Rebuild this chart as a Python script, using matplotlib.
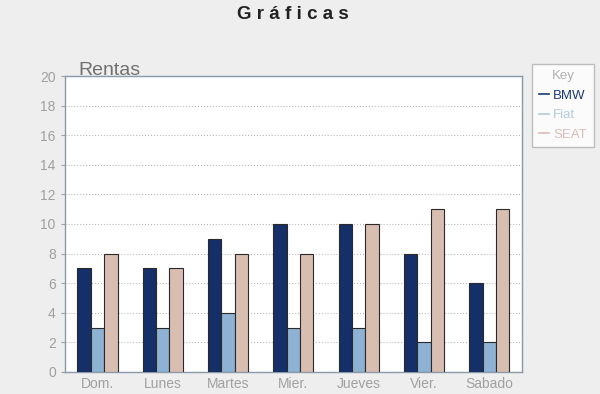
import matplotlib
matplotlib.use("Agg")
import matplotlib.pyplot as plt
from matplotlib.lines import Line2D
import numpy as np

plt.rcParams['font.family'] = ['Liberation Sans', 'DejaVu Sans']

days = ["Dom.", "Lunes", "Martes", "Mier.", "Jueves", "Vier.", "Sabado"]
bmw = [7, 7, 9, 10, 10, 8, 6]
fiat = [3, 3, 4, 3, 3, 2, 2]
seat = [8, 7, 8, 8, 10, 11, 11]
series_names = ["BMW", "Fiat", "SEAT"]
colors = ["#152f68", "#8eb2d3", "#d8bdb1"]
legend_colors = ["#1c3a78", "#b3cbe0", "#dcbcb8"]

fig = plt.figure(figsize=(6.0, 3.94), dpi=100)
fig.patch.set_facecolor("#eeeeee")
ax = fig.add_axes([0.108, 0.056, 0.762, 0.751])
ax.set_facecolor("white")

x = np.arange(len(days))
w = 0.205
for i, (vals, c) in enumerate(zip([bmw, fiat, seat], colors)):
    ax.bar(x + (i - 1) * w, vals, width=w, color=c, edgecolor="#2a2a2a", linewidth=0.8, zorder=3)

ax.set_xlim(-0.5, len(days) - 0.5)
ax.set_ylim(0, 20)
ax.set_yticks(range(0, 21, 2))
ax.set_xticks(x)
ax.set_xticklabels(days)
ax.tick_params(colors="#a0a0a0", labelsize=10, length=3)
ax.tick_params(axis="x", length=0)
ax.yaxis.grid(True, linestyle=":", color="#bbbbbb", linewidth=0.8, zorder=0)
for s in ax.spines.values():
    s.set_color("#8a9aa8")
    s.set_linewidth(1.0)

fig.text(0.488, 0.962, "G r á f i c a s", ha="center", va="center", fontsize=13.5, fontweight="bold", color="#222222")
fig.text(0.13, 0.8, "Rentas", ha="left", va="bottom", fontsize=14, color="#707070")

handles = [Line2D([0], [0], color=c, lw=1.2) for c in legend_colors]
leg = fig.legend(handles, series_names, title="Key", loc="upper left",
                 bbox_to_anchor=(0.876, 0.855), frameon=True, fancybox=False, fontsize=9.5,
                 handlelength=0.8, handletextpad=0.3, borderpad=0.5, labelspacing=0.55)
leg.get_frame().set_edgecolor("#b0b0b0")
leg.get_frame().set_facecolor("white")
leg.get_frame().set_linewidth(1.0)
leg.get_title().set_color("#b0b0b0")
leg.get_title().set_fontsize(9.5)
for t, c in zip(leg.get_texts(), legend_colors):
    t.set_color(c)

fig.savefig("out.png", dpi=100, facecolor=fig.get_facecolor())
